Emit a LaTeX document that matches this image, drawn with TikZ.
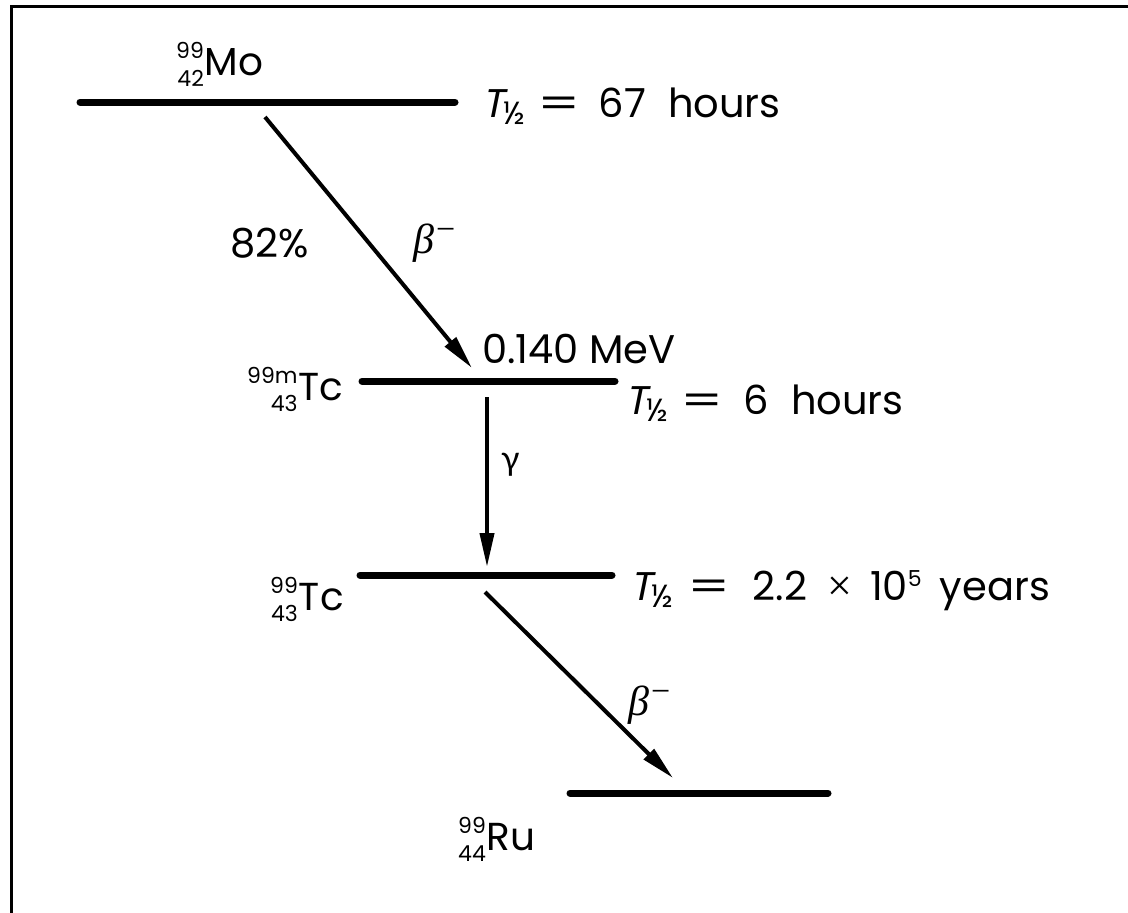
\documentclass[tikz,border=0pt]{standalone}
\usepackage{fontspec}
\usepackage{graphicx}
\setmainfont{Poppins}
\newfontfamily\oblfont[FakeSlant=0.2]{Poppins}
\newfontfamily\grkfont{Lato}
\newfontfamily\betafont{Liberation Serif}
\usetikzlibrary{arrows.meta}
\newcommand\nucfont{\fontsize{22}{28}\selectfont}
\newcommand\nuc[3]{\raisebox{-11pt}{\nucfont\begin{tabular}[b]{@{}r@{}}#1\\#2\end{tabular}}\kern1pt#3}
\newcommand\thalf{{\oblfont T}\raisebox{-7pt}{\fontsize{32}{32}\selectfont ½}}
\newcommand\eqs{\scalebox{1.5}[1]{=}}
\newcommand\tms{{\betafont\fontsize{44}{44}\selectfont ×}}
\newcommand\betaminus{{\betafont\itshape\fontsize{42}{44}\selectfont β}\raisebox{13pt}{\betafont\fontsize{34}{34}\selectfont\kern2pt −}}
\begin{document}
\begin{tikzpicture}[x=1pt,y=-1pt,
  level/.style={line width=7pt, line cap=round},
  decay/.style={line width=4pt, -{Triangle[length=34pt,width=14pt]}},
  lbl/.style={anchor=base west, inner sep=0pt, font=\fontsize{40}{44}\selectfont},
  nucl/.style={anchor=base west, inner sep=0pt, font=\fontsize{39}{42}\selectfont}]
\useasboundingbox (0,0) rectangle (1128,913);
% frame
\draw[line width=3pt] (11,913) -- (11,6) -- (1128,6);
% level end points
\coordinate (moL) at (80,102);  \coordinate (moR) at (455,102);
\coordinate (tcmL) at (362,381); \coordinate (tcmR) at (615,381);
\coordinate (tcL) at (360,575);  \coordinate (tcR) at (612,575);
\coordinate (ruL) at (570,793);  \coordinate (ruR) at (828,793);
\draw[level] (moL) -- (moR);
\draw[level] (tcmL) -- (tcmR);
\draw[level] (tcL) -- (tcR);
\draw[level] (ruL) -- (ruR);
% decay arrows
\coordinate (b1s) at (265,117); \coordinate (b1e) at (472,368);
\coordinate (gs) at (487,397);  \coordinate (ge) at (487,567);
\coordinate (b2s) at (485,592); \coordinate (b2e) at (673,778);
\draw[decay] (b1s) -- (b1e);
\draw[decay] (gs) -- (ge);
\draw[decay] (b2s) -- (b2e);
% nuclide labels
\node[nucl] (mo) at (176,75) {\nuc{99}{42}{Mo}};
\node[nucl] (tcm) at (247,400) {\nuc{99m}{43}{Tc}};
\node[nucl] (tc) at (270,610) {\nuc{99}{43}{Tc}};
\node[nucl] (ru) at (458,850) {\nuc{99}{44}{Ru}};
% half lives
\node[lbl] (h1) at (482,117) {\thalf\hspace{12pt}\eqs\hspace{18pt}67\hspace{22pt}hours};
\node[lbl] (h2) at (625,414) {\thalf\hspace{12pt}\eqs\hspace{20pt}6\hspace{22pt}hours};
\node[lbl] (h3) at (630,600) {\thalf\hspace{14pt}\eqs\hspace{22pt}2.2\hspace{20pt}\tms\hspace{18pt}10\raisebox{14pt}{\fontsize{22}{22}\selectfont 5}\hspace{18pt}years};
% other labels
\node[lbl] (pct) at (230,257) {82\%};
\node[lbl] (be1) at (413,253) {\betaminus};
\node[lbl] (en) at (482,363) {0.140 MeV};
\node[lbl, font=\fontsize{34}{40}\selectfont] (gam) at (501,470) {\grkfont γ};
\node[lbl] (be2) at (628,715) {\betaminus};
\end{tikzpicture}
\end{document}
